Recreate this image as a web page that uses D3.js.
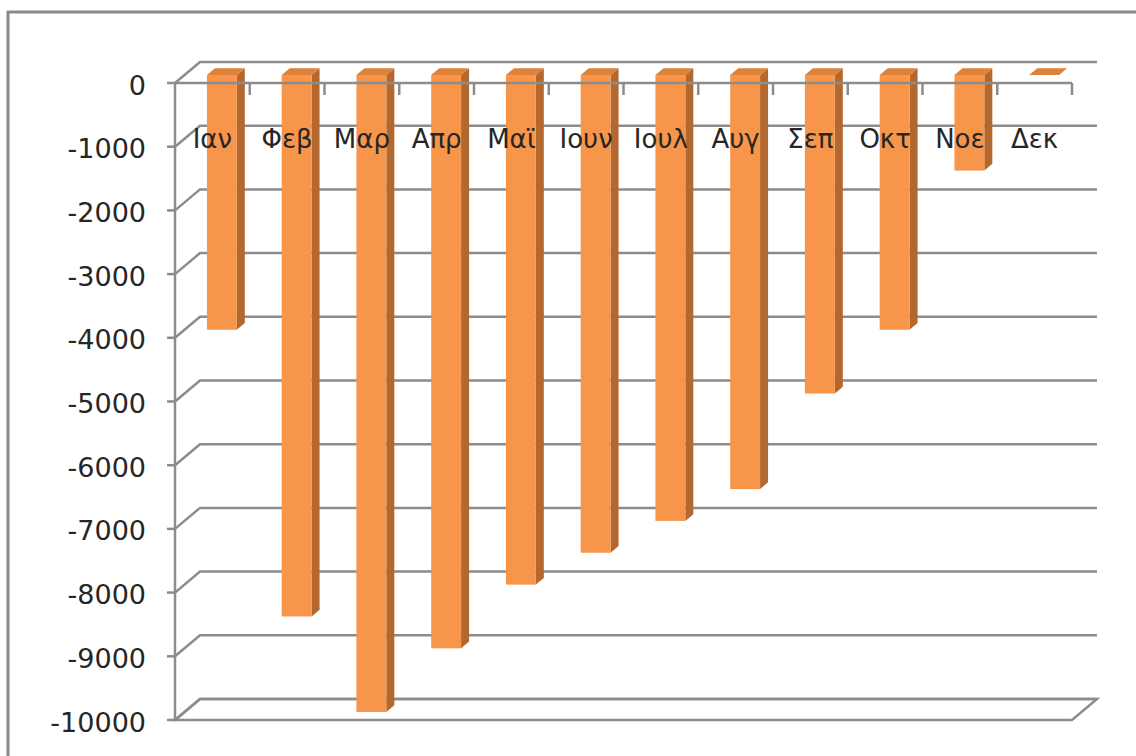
<!DOCTYPE html>
<html>
<head>
<meta charset="utf-8">
<script src="https://cdn.jsdelivr.net/npm/d3@7"></script>
<style>
  html, body { margin: 0; padding: 0; background: #fff; }
  svg { display: block; }
  text { font-family: "DejaVu Sans", sans-serif; fill: #262626; }
</style>
</head>
<body>
<svg id="chart" width="1136" height="756"></svg>
<script>
// Monthly values (Greek month abbreviations)
const months = ["Ιαν", "Φεβ", "Μαρ", "Απρ", "Μαϊ", "Ιουν", "Ιουλ", "Αυγ", "Σεπ", "Οκτ", "Νοε", "Δεκ"];
const values = [-4000, -8500, -10000, -9000, -8000, -7500, -7000, -6500, -5000, -4000, -1500, 0];
const valueTicks = [0, -1000, -2000, -3000, -4000, -5000, -6000, -7000, -8000, -9000, -10000];

(function drawChart() {
  const svg = d3.select("#chart");

  // Plot frame at the front plane (z = 0)
  const plotLeft = 175, plotRight = 1072, plotTop = 83, plotBottom = 720;
  // Oblique depth offset for the back wall (z = 1)
  const depthX = 25, depthY = -21;
  // Depth span occupied by the columns
  const zFront = 0.38, zBack = 0.70;

  const x = d3.scaleBand().domain(months).range([plotLeft, plotRight]).paddingInner(0.6).paddingOuter(0.3);
  const y = d3.scaleLinear().domain([-10000, 0]).range([plotBottom, plotTop]);

  // project a point with depth z
  const P = (px, py, z) => [px + depthX * z, py + depthY * z];
  const poly = pts => "M" + pts.map(p => p.join(",")).join("L") + "Z";

  const gridColor = "#8c8c8c";

  // Outer chart border
  svg.append("rect")
    .attr("x", 8).attr("y", 12).attr("width", 1300).attr("height", 900)
    .attr("fill", "none").attr("stroke", "#8a8a8a").attr("stroke-width", 3);

  // Back wall gridlines + side wall slants
  const grid = svg.append("g").attr("stroke", gridColor).attr("stroke-width", 2.5).attr("fill", "none");
  valueTicks.forEach(v => {
    const yf = y(v);
    const a = P(plotLeft, yf, 0), b = P(plotLeft, yf, 1), c = P(plotRight, yf, 1);
    grid.append("path").attr("d", `M${a}L${b}L${c}`);
  });
  // Floor (at the axis minimum)
  const yFloor = y(-10000);
  grid.append("path").attr("d", poly([P(plotLeft, yFloor, 0), P(plotLeft, yFloor, 1), P(plotRight, yFloor, 1), P(plotRight, yFloor, 0)]));

  // Columns
  const colFront = "#f7964a", colSide = "#b2682f", colTop = "#dd8238";
  const bars = svg.append("g");
  months.forEach((m, i) => {
    const x0 = x(m), x1 = x(m) + x.bandwidth();
    const y0 = y(0), yv = y(values[i]);
    const g = bars.append("g");
    // right side face
    g.append("path").attr("fill", colSide)
      .attr("d", poly([P(x1, y0, zFront), P(x1, y0, zBack), P(x1, yv, zBack), P(x1, yv, zFront)]));
    // top face
    g.append("path").attr("fill", colTop)
      .attr("d", poly([P(x0, y0, zFront), P(x1, y0, zFront), P(x1, y0, zBack), P(x0, y0, zBack)]));
    // front face
    const f0 = P(x0, y0, zFront), f1 = P(x1, yv, zFront);
    g.append("rect").attr("fill", colFront)
      .attr("x", f0[0]).attr("y", f0[1]).attr("width", f1[0] - f0[0]).attr("height", Math.max(0, f1[1] - f0[1]));
  });

  // Front axes
  const axes = svg.append("g").attr("stroke", gridColor).attr("stroke-width", 2.5).attr("fill", "none");
  // value axis line with ticks
  axes.append("path").attr("d", `M${plotLeft},${plotTop}L${plotLeft},${plotBottom}`);
  valueTicks.forEach(v => axes.append("path").attr("d", `M${plotLeft - 8},${y(v)}L${plotLeft},${y(v)}`));
  // category axis at zero with tick marks between categories
  axes.append("path").attr("d", `M${plotLeft},${y(0)}L${plotRight},${y(0)}`);
  const step = x.step();
  d3.range(1, months.length + 1).forEach(k => {
    const tx = plotLeft + k * step;
    axes.append("path").attr("d", `M${tx},${y(0)}L${tx},${y(0) + 12}`);
  });

  // Value labels (plain hyphen-minus)
  svg.append("g").selectAll("text").data(valueTicks).join("text")
    .attr("x", 146).attr("y", d => y(d) + 2)
    .attr("text-anchor", "end").attr("dominant-baseline", "central")
    .attr("font-size", 27)
    .text(d => String(d));

  // Category labels
  svg.append("g").selectAll("text").data(months).join("text")
    .attr("x", d => x(d) + x.bandwidth() / 2)
    .attr("y", 148)
    .attr("text-anchor", "middle")
    .attr("font-size", 26)
    .text(d => d);
})();
</script>
</body>
</html>
